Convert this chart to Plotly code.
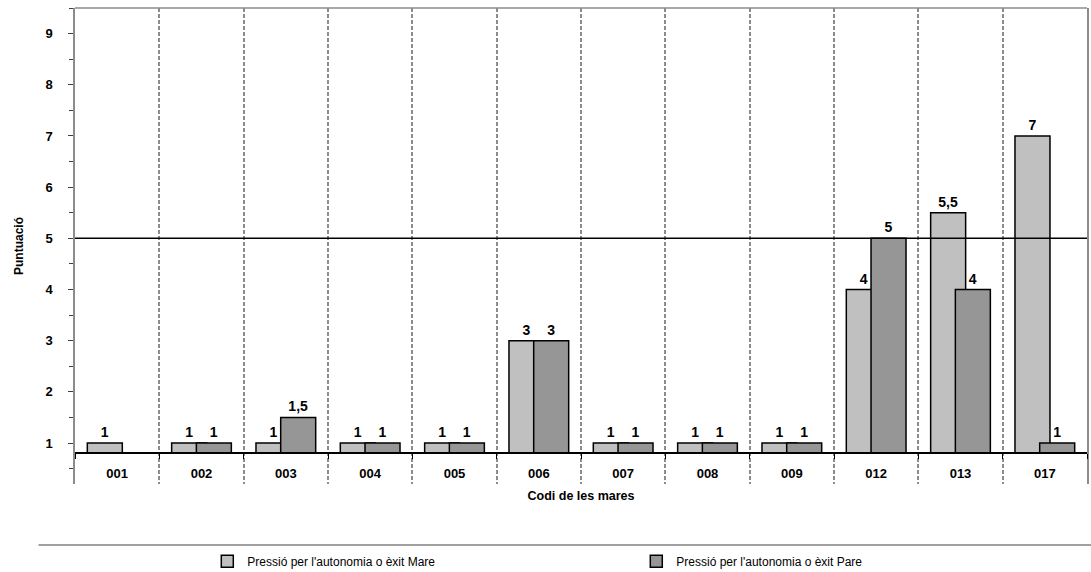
import plotly.graph_objects as go

# Scores per mother code
codes = ["001", "002", "003", "004", "005", "006", "007", "008", "009", "012", "013", "017"]
mare = [1, 1, 1, 1, 1, 3, 1, 1, 1, 4, 5.5, 7]
pare = [None, 1, 1.5, 1, 1, 3, 1, 1, 1, 5, 4, 1]

series_names = ["Pressió per l'autonomia o èxit Mare", "Pressió per l'autonomia o èxit Pare"]
axis_cross = 0.8      # value where the category axis crosses
threshold = 5         # reference line
y_range = [0.2, 9.5]

FONT = "Arial, Liberation Sans, sans-serif"
BAR_W = 0.415


def heights(vals):
    return [None if v is None else v - axis_cross for v in vals]


def labels(vals):
    return [None if v is None else f"{v:g}".replace(".", ",") for v in vals]


fig = go.Figure()
for name, vals, color, offset in [
    (series_names[0], mare, "#c0c0c0", -0.354),
    (series_names[1], pare, "#969696", -0.061),
]:
    fig.add_trace(go.Bar(
        name=name,
        x=codes,
        y=heights(vals),
        base=axis_cross,
        width=BAR_W,
        offset=offset,
        marker=dict(color=color, line=dict(color="#000000", width=1.5)),
        text=labels(vals),
        textposition="outside",
        textfont=dict(family=FONT, size=14, color="#000000", weight="bold"),
        cliponaxis=False,
    ))

pos_cross = (axis_cross - y_range[0]) / (y_range[1] - y_range[0])

fig.update_layout(
    width=1091, height=572,
    margin=dict(l=75, r=4, t=8, b=88),
    paper_bgcolor="white", plot_bgcolor="white",
    barmode="overlay",
    font=dict(family=FONT, color="#000000"),
    showlegend=True,
    legend=dict(
        orientation="h",
        xref="container", x=0.19, xanchor="left",
        yref="container", y=0.019, yanchor="middle",
        font=dict(family=FONT, size=12, color="#000000"),
        entrywidth=384, entrywidthmode="pixels",
        itemwidth=30, bgcolor="rgba(0,0,0,0)",
    ),
    xaxis=dict(
        type="category",
        categoryorder="array", categoryarray=codes,
        range=[-0.5, len(codes) - 0.5],
        tickson="boundaries", ticks="outside", ticklen=5, tickcolor="#000000",
        tickfont=dict(family=FONT, size=13, color="#000000", weight="bold"),
        ticklabelstandoff=8,
        showline=True, linecolor="#000000", linewidth=1.5,
        anchor="free", position=pos_cross,
        showgrid=True, gridcolor="#8c8c8c", gridwidth=1.5, griddash="4px,2px",
        zeroline=False, automargin=False,
        title=dict(text="Codi de les mares", standoff=11,
                   font=dict(family=FONT, size=12.5, color="#000000", weight="bold")),
    ),
    yaxis=dict(
        range=y_range, tick0=0, dtick=1,
        ticks="outside", ticklen=5, tickcolor="#404040", tickwidth=1.2,
        minor=dict(dtick=0.5, tick0=0, ticks="outside", ticklen=4, tickcolor="#404040"),
        tickfont=dict(family=FONT, size=13, color="#000000", weight="bold"),
        ticklabelstandoff=13,
        showline=True, linecolor="#8c8c8c", linewidth=1.5, mirror=True,
        showgrid=False, zeroline=False, automargin=False,
        title=dict(text="Puntuació", standoff=19,
                   font=dict(family=FONT, size=12, color="#000000", weight="bold")),
    ),
    shapes=[
        # top border of the plot area
        dict(type="line", xref="paper", yref="paper", x0=0, x1=1, y0=1, y1=1,
             line=dict(color="#8c8c8c", width=1.5)),
        # reference line
        dict(type="line", xref="paper", yref="y", x0=0, x1=1, y0=threshold, y1=threshold,
             line=dict(color="#000000", width=1.5), layer="above"),
        # separator above the legend
        dict(type="line", xref="paper", yref="paper", x0=-0.036, x1=1.01, y0=-0.128, y1=-0.128,
             line=dict(color="#808080", width=1.5)),
    ],
)

fig.write_html("out.html")
